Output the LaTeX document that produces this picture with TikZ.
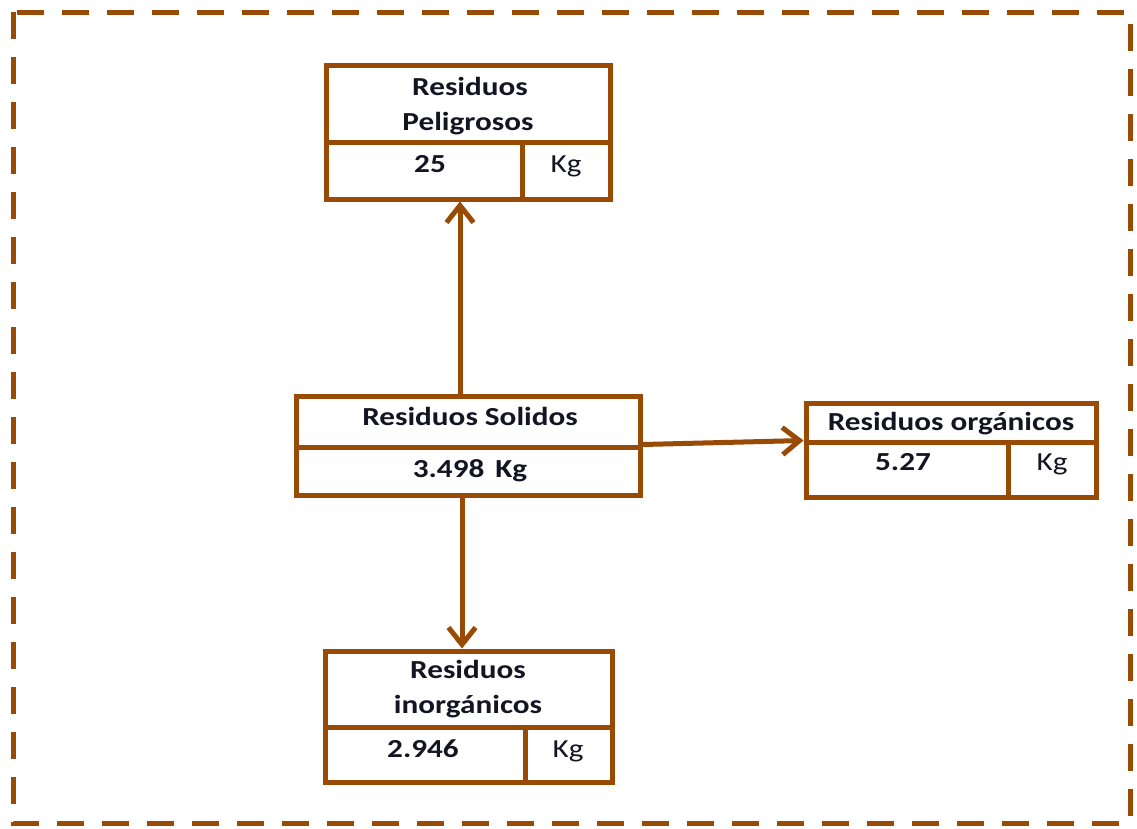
\documentclass[tikz,border=0pt]{standalone}
\usepackage{fontspec}
\setmainfont{Carlito}[FakeStretch=1.2]
\usetikzlibrary{arrows.meta}
\definecolor{brn}{RGB}{153,74,4}
\definecolor{txt}{RGB}{20,20,35}
\begin{document}
\begin{tikzpicture}[x=1pt,y=-1pt,
  cell/.style={draw=brn,line width=5pt,rectangle,inner sep=0pt,outer sep=2.5pt},
  lbl/.style={text=txt,font=\fontsize{26}{30}\selectfont\bfseries,inner sep=0pt,anchor=base},
  unit/.style={text=txt,font=\fontsize{26}{30}\selectfont,inner sep=0pt,anchor=base},
  arr/.style={draw=brn,line width=5pt,-{Straight Barb[length=17pt,width=27pt,line width=5pt]}}]
\useasboundingbox (0,0) rectangle (1137,828);
\draw[brn,line width=5pt,dash pattern=on 27pt off 18pt] (13,12) rectangle (1130,823);
% Peligrosos
\node[cell,minimum width=284pt,minimum height=77pt] (pt) at (468,103.5) {};
\node[cell,minimum width=196pt,minimum height=57pt] (pv) at (424,170.5) {};
\node[cell,minimum width=88pt,minimum height=57pt] (pu) at (566,170.5) {};
\node[lbl] (ptx1) at (470,95) {Residuos};
\node[lbl] (ptx2) at (468,130) {Peligrosos};
\node[lbl] (pvx) at (430,172) {25};
\node[unit] (pux) at (566,172) {Kg};
% Solidos
\node[cell,minimum width=344pt,minimum height=51pt] (st) at (468,421.5) {};
\node[cell,minimum width=344pt,minimum height=48pt] (sv) at (468,471) {};
\node[lbl] (stx) at (470,425) {Residuos Solidos};
\node[lbl] (svx) at (470,477) {3.498\hspace{11pt}Kg};
% Organicos
\node[cell,minimum width=290pt,minimum height=39pt] (ot) at (951,422.5) {};
\node[cell,minimum width=202pt,minimum height=55pt] (ov) at (907,469.5) {};
\node[cell,minimum width=88pt,minimum height=55pt] (ou) at (1052,469.5) {};
\node[lbl] (otx) at (951,430) {Residuos orgánicos};
\node[lbl] (ovx) at (903,470) {5.27};
\node[unit] (oux) at (1052,470) {Kg};
% Inorganicos
\node[cell,minimum width=287pt,minimum height=76pt] (it) at (468.5,689) {};
\node[cell,minimum width=200pt,minimum height=55pt] (iv) at (425,754.5) {};
\node[cell,minimum width=87pt,minimum height=55pt] (iu) at (568.5,754.5) {};
\node[lbl] (itx1) at (468,678) {Residuos};
\node[lbl] (itx2) at (468,713) {inorgánicos};
\node[lbl] (ivx) at (423,757) {2.946};
\node[unit] (iux) at (568,757) {Kg};
% arrows
\draw[arr] ([xshift=-8pt]st.north) -- ([xshift=-8pt]st.north |- pv.south);
\draw[arr] ([xshift=-6pt]sv.south) -- ([xshift=-6pt]sv.south |- it.north);
\draw[arr] (sv.north east) -- ([yshift=4pt]ot.south west);
\end{tikzpicture}
\end{document}
